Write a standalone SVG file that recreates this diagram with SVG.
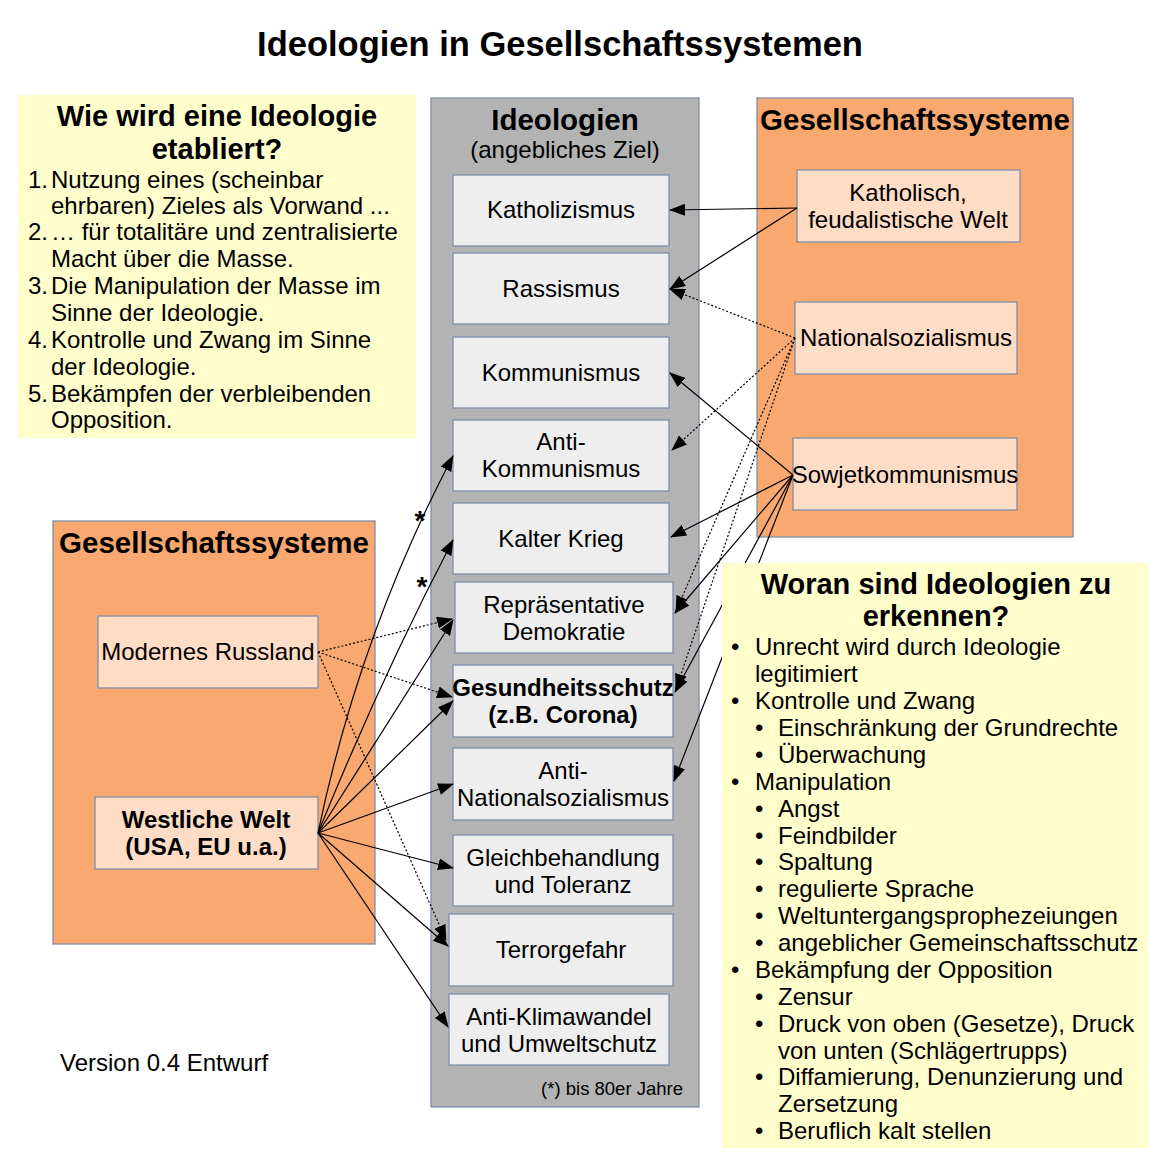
<svg xmlns="http://www.w3.org/2000/svg" width="1172" height="1172" viewBox="0 0 1172 1172">
<defs>
<style>
text{font-family:"Liberation Sans",Arial,sans-serif;fill:#000}
.t{font-size:24px}
.b{font-weight:bold}
.c{text-anchor:middle}
.h{font-size:29px;font-weight:bold;text-anchor:middle}
.h2{font-size:29.5px;font-weight:bold;text-anchor:middle}
.yel{fill:#fffdcc}
.org{fill:#f9a86f;stroke:#7f8fa9;stroke-width:1.3}
.pch{fill:#ffdcc6;stroke:#7f8fa9;stroke-width:1.3}
.ide{fill:#eeeeee;stroke:#7f8fa9;stroke-width:1.3}
.col{fill:#b3b3b3;stroke:#7f8fa9;stroke-width:1.3}
.s{fill:none;stroke:#000;stroke-width:1.2;marker-end:url(#ah)}
.d{fill:none;stroke:#000;stroke-width:1.2;stroke-dasharray:2,2;marker-end:url(#ah)}
</style>
<marker id="ah" markerUnits="userSpaceOnUse" markerWidth="16" markerHeight="12" refX="15" refY="6" orient="auto"><path d="M0,0 L16,6 L0,12 z" fill="#000"/></marker>
</defs>
<rect width="1172" height="1172" fill="#fff"/>
<text x="560" y="56" font-size="34.5" class="b c">Ideologien in Gesellschaftssystemen</text>

<g id="etabliert">
<rect x="18" y="95" width="398" height="343" class="yel"/>
<text x="217" y="126" class="h">Wie wird eine Ideologie</text>
<text x="217" y="159" class="h">etabliert?</text>
<g class="t">
<text x="28" y="188">1.</text><text x="51" y="188">Nutzung eines (scheinbar</text>
<text x="51" y="214">ehrbaren) Zieles als Vorwand ...</text>
<text x="28" y="240">2.</text><text x="51" y="240">… für totalitäre und zentralisierte</text>
<text x="51" y="267">Macht über die Masse.</text>
<text x="28" y="294">3.</text><text x="51" y="294">Die Manipulation der Masse im</text>
<text x="51" y="321">Sinne der Ideologie.</text>
<text x="28" y="348">4.</text><text x="51" y="348">Kontrolle und Zwang im Sinne</text>
<text x="51" y="375">der Ideologie.</text>
<text x="28" y="402">5.</text><text x="51" y="402">Bekämpfen der verbleibenden</text>
<text x="51" y="428">Opposition.</text>
</g>
</g>

<g id="ideologien">
<rect x="431" y="98" width="268" height="1009" class="col"/>
<text x="565" y="130" class="h2">Ideologien</text>
<text x="565" y="158" class="t c">(angebliches Ziel)</text>
<text x="683" y="1095" font-size="18.5" text-anchor="end">(*) bis 80er Jahre</text>
</g>
<g id="katholizismus"><rect x="453" y="175" width="216" height="71" class="ide"/><text x="561" y="218" class="t c">Katholizismus</text></g>
<g id="rassismus"><rect x="453" y="253" width="216" height="71" class="ide"/><text x="561" y="297" class="t c">Rassismus</text></g>
<g id="kommunismus"><rect x="453" y="337" width="216" height="71" class="ide"/><text x="561" y="381" class="t c">Kommunismus</text></g>
<g id="antikommunismus"><rect x="453" y="420" width="216" height="71" class="ide"/><text x="561" y="450" class="t c">Anti-</text><text x="561" y="477" class="t c">Kommunismus</text></g>
<g id="kalterkrieg"><rect x="453" y="503" width="216" height="71" class="ide"/><text x="561" y="547" class="t c">Kalter Krieg</text></g>
<g id="demokratie"><rect x="455" y="582" width="218" height="71" class="ide"/><text x="564" y="613" class="t c">Repräsentative</text><text x="564" y="640" class="t c">Demokratie</text></g>
<g id="gesundheit"><rect x="453" y="665" width="220" height="72" class="ide"/><text x="563" y="696" class="t c b">Gesundheitsschutz</text><text x="563" y="723" class="t c b">(z.B. Corona)</text></g>
<g id="antins"><rect x="453" y="748" width="220" height="72" class="ide"/><text x="563" y="779" class="t c">Anti-</text><text x="563" y="806" class="t c">Nationalsozialismus</text></g>
<g id="gleichbehandlung"><rect x="453" y="835" width="220" height="71" class="ide"/><text x="563" y="866" class="t c">Gleichbehandlung</text><text x="563" y="893" class="t c">und Toleranz</text></g>
<g id="terror"><rect x="449" y="914" width="224" height="72" class="ide"/><text x="561" y="958" class="t c">Terrorgefahr</text></g>
<g id="klima"><rect x="449" y="994" width="220" height="71" class="ide"/><text x="559" y="1025" class="t c">Anti-Klimawandel</text><text x="559" y="1052" class="t c">und Umweltschutz</text></g>

<g id="gs-rechts">
<rect x="757" y="98" width="316" height="439" class="org"/>
<text x="915" y="130" class="h2">Gesellschaftssysteme</text>
</g>
<g id="katholisch"><rect x="797" y="170" width="223" height="72" class="pch"/><text x="908" y="201" class="t c">Katholisch,</text><text x="908" y="228" class="t c">feudalistische Welt</text></g>
<g id="ns"><rect x="795" y="302" width="222" height="72" class="pch"/><text x="906" y="346" class="t c">Nationalsozialismus</text></g>
<g id="sowjet"><rect x="793" y="438" width="224" height="72" class="pch"/><text x="905" y="483" class="t c">Sowjetkommunismus</text></g>

<g id="gs-links">
<rect x="53" y="521" width="322" height="423" class="org"/>
<text x="214" y="553" class="h2">Gesellschaftssysteme</text>
</g>
<g id="russland"><rect x="98" y="616" width="220" height="72" class="pch"/><text x="208" y="660" class="t c">Modernes Russland</text></g>
<g id="westen"><rect x="95" y="797" width="223" height="72" class="pch"/><text x="206" y="828" class="t c b">Westliche Welt</text><text x="206" y="855" class="t c b">(USA, EU u.a.)</text></g>

<g id="connectors">
<path class="s" d="M797,208 L670,210"/>
<path class="s" d="M797,208 L670,289"/>
<path class="d" d="M795,338 L670,289"/>
<path class="d" d="M795,338 L672,450"/>
<path class="d" d="M795,338 L676,611"/>
<path class="d" d="M795,338 L676,689"/>
<path class="s" d="M793,475 L670,373"/>
<path class="s" d="M793,475 L671,537"/>
<path class="s" d="M793,475 L675,613"/>
<path class="s" d="M793,475 L675,692"/>
<path class="s" d="M793,475 L674,781"/>
<path class="d" d="M318,652 L452,619"/>
<path class="d" d="M318,652 L452,697"/>
<path class="d" d="M318,652 L446,940"/>
<path class="s" d="M318,833 Q359,635 453,456"/>
<path class="s" d="M318,833 Q380,680 453,540"/>
<path class="s" d="M318,833 L453,620"/>
<path class="s" d="M318,833 L453,701"/>
<path class="s" d="M318,833 L453,784"/>
<path class="s" d="M318,833 L453,868"/>
<path class="s" d="M318,833 L448,946"/>
<path class="s" d="M318,833 L448,1027"/>
</g>
<text x="420" y="530" font-size="28" class="b c">*</text>
<text x="422" y="596" font-size="28" class="b c">*</text>

<g id="erkennen">
<rect x="722" y="563" width="426" height="585" class="yel"/>
<text x="936" y="594" class="h">Woran sind Ideologien zu</text>
<text x="936" y="626" class="h">erkennen?</text>
<g class="t">
<text x="731" y="655">•</text><text x="755" y="655">Unrecht wird durch Ideologie</text>
<text x="755" y="682">legitimiert</text>
<text x="731" y="709">•</text><text x="755" y="709">Kontrolle und Zwang</text>
<text x="755" y="736">•</text><text x="778" y="736">Einschränkung der Grundrechte</text>
<text x="755" y="763">•</text><text x="778" y="763">Überwachung</text>
<text x="731" y="790">•</text><text x="755" y="790">Manipulation</text>
<text x="755" y="817">•</text><text x="778" y="817">Angst</text>
<text x="755" y="844">•</text><text x="778" y="844">Feindbilder</text>
<text x="755" y="870">•</text><text x="778" y="870">Spaltung</text>
<text x="755" y="897">•</text><text x="778" y="897">regulierte Sprache</text>
<text x="755" y="924">•</text><text x="778" y="924">Weltuntergangsprophezeiungen</text>
<text x="755" y="951">•</text><text x="778" y="951">angeblicher Gemeinschaftsschutz</text>
<text x="731" y="978">•</text><text x="755" y="978">Bekämpfung der Opposition</text>
<text x="755" y="1005">•</text><text x="778" y="1005">Zensur</text>
<text x="755" y="1032">•</text><text x="778" y="1032">Druck von oben (Gesetze), Druck</text>
<text x="778" y="1059">von unten (Schlägertrupps)</text>
<text x="755" y="1085">•</text><text x="778" y="1085">Diffamierung, Denunzierung und</text>
<text x="778" y="1112">Zersetzung</text>
<text x="755" y="1139">•</text><text x="778" y="1139">Beruflich kalt stellen</text>
</g>
</g>

<text x="60" y="1071" class="t">Version 0.4 Entwurf</text>
</svg>
